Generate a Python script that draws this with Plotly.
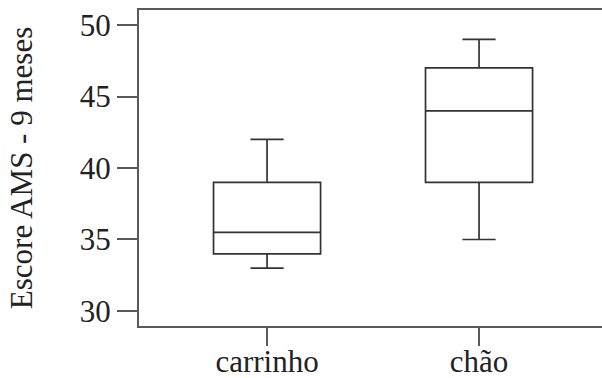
import plotly.graph_objects as go

categories = ["carrinho", "chão"]
lower_whisker = [33, 35]
q1_vals = [34, 39]
medians = [35.5, 44]
q3_vals = [39, 47]
upper_whisker = [42, 49]
y_ticks = [30, 35, 40, 45, 50]

fig = go.Figure()
fig.add_trace(go.Box(
    x=categories,
    q1=q1_vals, median=medians, q3=q3_vals,
    lowerfence=lower_whisker, upperfence=upper_whisker,
    fillcolor="rgba(0,0,0,0)",
    line=dict(color="#333333", width=1.7),
    whiskerwidth=0.31,
    boxpoints=False,
    hoverinfo="skip",
    showlegend=False,
))

serif = "Liberation Serif"
fig.update_layout(
    width=602, height=378,
    margin=dict(l=139, r=0, t=10, b=52),
    paper_bgcolor="white", plot_bgcolor="white",
    boxgap=0.495, boxgroupgap=0,
    font=dict(family=serif, size=31, color="#222222"),
    xaxis=dict(
        type="category", range=[-0.604, 1.58],
        showline=True, linecolor="#5a5a5a", linewidth=2, mirror=True,
        ticks="outside", ticklen=18, tickwidth=2, tickcolor="#5a5a5a",
        ticklabelstandoff=-11,
        showgrid=False, zeroline=False, automargin=False,
        tickfont=dict(family=serif, size=31, color="#222222"),
    ),
    yaxis=dict(
        range=[28.95, 51.05], tickvals=y_ticks,
        showline=True, linecolor="#5a5a5a", linewidth=2,
        ticks="outside", ticklen=20, tickwidth=2, tickcolor="#5a5a5a",
        showgrid=False, zeroline=False, automargin=False,
        tickfont=dict(family=serif, size=31, color="#222222"),
        title=dict(text="Escore AMS - 9 meses", standoff=38,
                   font=dict(family=serif, size=31, color="#222222")),
    ),
)

fig.write_html("out.html", config={"displayModeBar": False},
               post_script="document.body.style.margin='0';document.body.style.overflow='hidden';")
